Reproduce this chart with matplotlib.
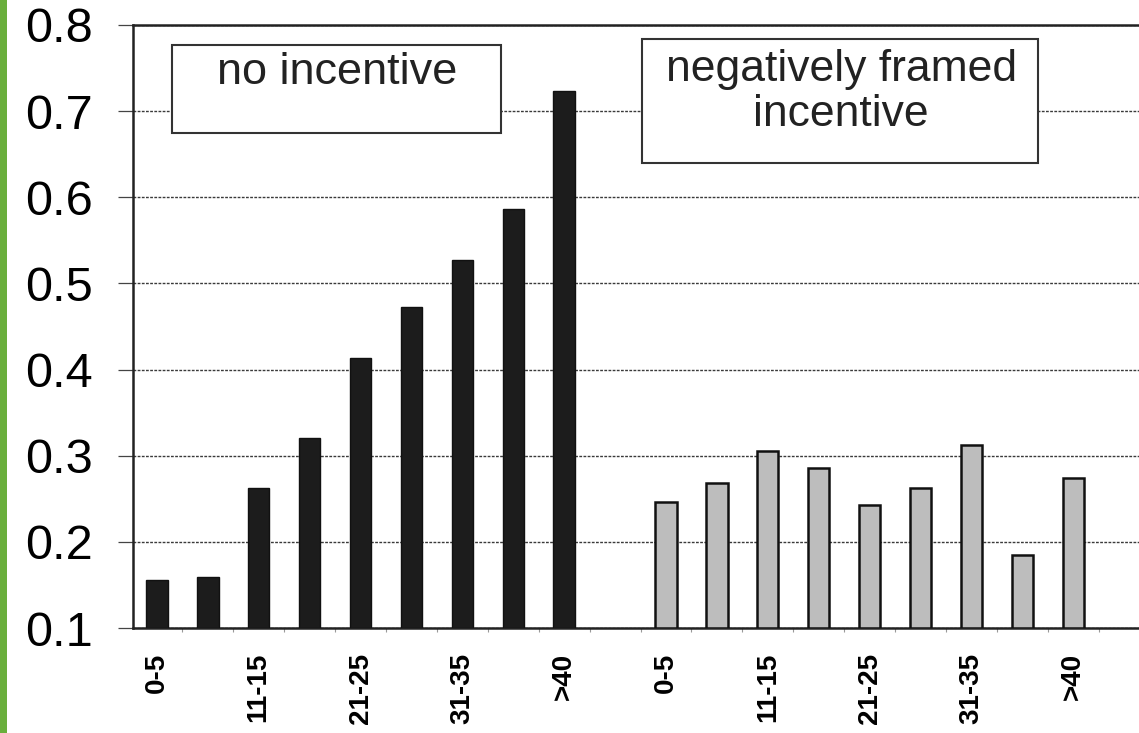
import matplotlib
matplotlib.use('Agg')
import matplotlib.pyplot as plt
from matplotlib.patches import Rectangle
from matplotlib.ticker import FixedLocator

# data
age_groups = ['0-5', '6-10', '11-15', '16-20', '21-25', '26-30', '31-35', '36-40', '>40']
no_incentive = [0.156, 0.159, 0.262, 0.321, 0.414, 0.473, 0.527, 0.586, 0.723]
neg_framed = [0.246, 0.268, 0.306, 0.286, 0.243, 0.263, 0.313, 0.185, 0.274]
shown_labels = ['0-5', '11-15', '21-25', '31-35', '>40']
y_ticks = [0.1, 0.2, 0.3, 0.4, 0.5, 0.6, 0.7, 0.8]

plt.rcParams['font.family'] = ['Liberation Sans', 'DejaVu Sans']

fig = plt.figure(figsize=(11.39, 7.33), dpi=100)
fig.patch.set_facecolor('white')
ax = fig.add_axes([133 / 1139, 105 / 733, 1 - 133 / 1139, 603 / 733])

n = len(age_groups)
x_left = list(range(n))
x_right = [i + n + 1 for i in range(n)]

ax.bar(x_left, [v - 0.1 for v in no_incentive], bottom=0.1, width=0.42,
       color='#1c1c1c', edgecolor='#111111', linewidth=1, zorder=3)
ax.bar(x_right, [v - 0.1 for v in neg_framed], bottom=0.1, width=0.42,
       color='#bdbdbd', edgecolor='#111111', linewidth=1.8, zorder=3)

ax.set_xlim(-0.47, (1139 - 157) / 50.9)
ax.set_ylim(0.1, 0.8)
ax.set_yticks(y_ticks)
ax.set_yticklabels(['%.1f' % t for t in y_ticks])
ax.yaxis.grid(True, color='#3a3a3a', linestyle=(0, (2, 1)), linewidth=1.0, zorder=0)

# x labels: every other age group, under both groups
pos = x_left[::2] + x_right[::2]
ax.xaxis.set_major_locator(FixedLocator(pos))
ax.set_xticklabels(shown_labels * 2, rotation=90, fontsize=20, fontweight='bold')
ax.xaxis.set_minor_locator(FixedLocator([i + 0.5 for i in range(-1, 2 * n + 1)]))
ax.tick_params(axis='x', which='major', length=0, pad=18)
ax.tick_params(axis='x', which='minor', length=3, width=0.8, color='#999999')
ax.tick_params(axis='y', length=11, width=0.9, color='#444444', labelsize=35, pad=18)

for s in ['left', 'top', 'bottom']:
    ax.spines[s].set_linewidth(1.8)
    ax.spines[s].set_color('#222222')
ax.spines['right'].set_visible(False)

# label boxes
ax.text(0.203, 0.955, 'no incentive', transform=ax.transAxes, ha='center', va='top',
        fontsize=32.5, color='#222222', zorder=5)
box1 = Rectangle((172 / 1139, (733 - 133) / 733), (501 - 172) / 1139, 88 / 733,
                 transform=fig.transFigure, facecolor='white', edgecolor='#333333',
                 linewidth=1.5, zorder=4)
ax.add_patch(box1)
box1.set_clip_on(False)

ax.text(0.704, 0.96, 'negatively framed\nincentive', transform=ax.transAxes, ha='center',
        va='top', fontsize=32, color='#222222', linespacing=1.12, zorder=5)
box2 = Rectangle((642 / 1139, (733 - 163) / 733), (1038 - 642) / 1139, 124 / 733,
                 transform=fig.transFigure, facecolor='white', edgecolor='#333333',
                 linewidth=1.5, zorder=4)
ax.add_patch(box2)
box2.set_clip_on(False)

# green strip on the left edge of the scan
fig.patches.append(Rectangle((0, 0), 7 / 1139, 1, transform=fig.transFigure,
                             facecolor='#6aaf3c', edgecolor='none'))

plt.savefig('out.png', dpi=100)
